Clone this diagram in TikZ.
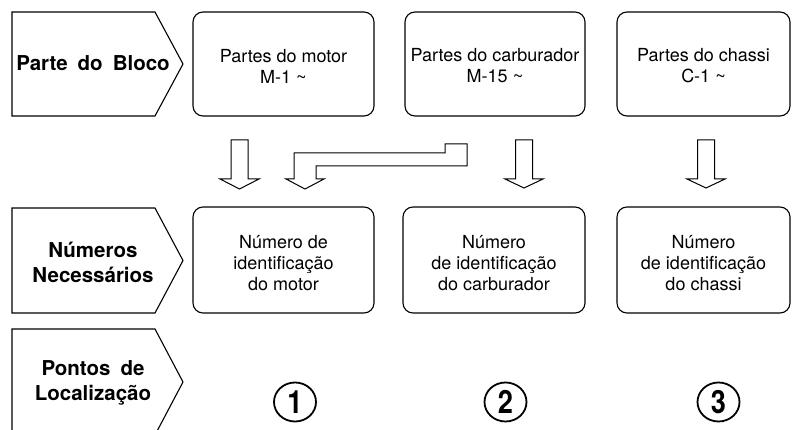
\documentclass[tikz,border=0pt]{standalone}
\usepackage{fontspec}
\setmainfont{TeX Gyre Heros}
\usetikzlibrary{shapes.geometric}
\begin{document}
\begin{tikzpicture}[x=1pt,y=-1pt,
  tag/.style={draw,line width=1.1pt,line join=miter},
  tagtext/.style={align=center,inner sep=0pt,font={\bfseries\fontsize{20.5}{25}\selectfont\spaceskip=10pt}},
  rbox/.style={draw,line width=1.1pt,rounded corners=10pt,inner sep=0pt},
  btext/.style={align=center,inner sep=0pt,font={\fontsize{18}{21}\selectfont}},
  bigarrow/.style={draw,line width=1pt,fill=white,line join=miter},
  num/.style={draw,ellipse,line width=1.8pt,minimum width=42pt,minimum height=39pt,inner sep=0pt,
    font={\bfseries\fontsize{32}{32}\selectfont}}]
\useasboundingbox (0,0) rectangle (792,430);
\clip (0,0) rectangle (792,430);

% left tags
\draw[tag] (12,12) -- (155,12) -- (183,64) -- (155,116) -- (12,116) -- cycle;
\node[tagtext] (t1) at (93,63) {Parte do Bloco};
\draw[tag] (12,208) -- (155,208) -- (183,260.5) -- (155,313) -- (12,313) -- cycle;
\node[tagtext] (t2) at (93,262) {Números\\Necessários};
\draw[tag] (12,329) -- (155,329) -- (183,382) -- (155,435) -- (12,435) -- cycle;
\node[tagtext] (t3) at (93,383) {Pontos de\\Localização};

% top row boxes
\node[rbox,minimum width=181pt,minimum height=104pt] (b1) at (283.5,64) {};
\node[rbox,minimum width=180pt,minimum height=104pt] (b2) at (495,64) {};
\node[rbox,minimum width=173pt,minimum height=104pt] (b3) at (703.5,64) {};
\node[btext] (b1t) at (283.5,66) {Partes do motor\\M-1 \textasciitilde};
\node[btext] (b2t) at (495,66) {Partes do carburador\\M-15 \textasciitilde};
\node[btext] (b3t) at (703.5,66) {Partes do chassi\\C-1 \textasciitilde};

% middle row boxes
\node[rbox,minimum width=181pt,minimum height=106pt] (n1) at (283.5,260) {};
\node[rbox,minimum width=182pt,minimum height=106pt] (n2) at (494,260) {};
\node[rbox,minimum width=173pt,minimum height=106pt] (n3) at (703.5,260) {};
\node[btext] (n1t) at (283.5,263) {Número de\\identificação\\do motor};
\node[btext] (n2t) at (494,263) {Número\\de identificação\\do carburador};
\node[btext] (n3t) at (703.5,263) {Número\\de identificação\\do chassi};

% block arrows
\draw[bigarrow] (231,140) -- (248,140) -- (248,179) -- (259,179) -- (239.5,189) -- (220,179) -- (231,179) -- cycle;
\draw[bigarrow] (294,179) -- (294,153) -- (445,153) -- (445,144) -- (467,144) -- (467,166)
  -- (316,166) -- (316,179) -- (324,179) -- (305,189) -- (286,179) -- cycle;
\draw[bigarrow] (515.5,140) -- (532.5,140) -- (532.5,179) -- (543,179) -- (524,188) -- (505,179) -- (515.5,179) -- cycle;
\draw[bigarrow] (697.5,140) -- (714.5,140) -- (714.5,179) -- (725,179) -- (706,188) -- (687,179) -- (697.5,179) -- cycle;

% location numbers
\node[num] (p1) at (295,402) {\scalebox{0.85}[1]{1}};
\node[num] (p2) at (505.5,402) {\scalebox{0.85}[1]{2}};
\node[num] (p3) at (718.5,402) {\scalebox{0.85}[1]{3}};
\end{tikzpicture}
\end{document}
